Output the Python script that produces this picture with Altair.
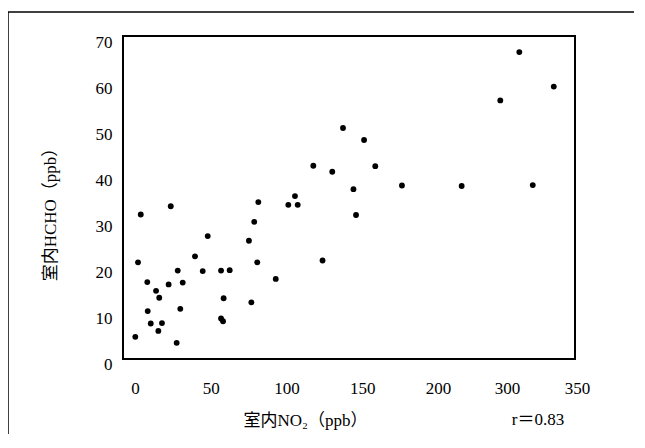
import altair as alt
import pandas as pd

# Indoor NO2 (ppb) and indoor HCHO (ppb)
no2 = [3.8, 23.6, 81.4, 105.6, 101.2, 107.4, 78.7, 48.0, 75.2, 39.6,
       2.0, 80.7, 28.2, 44.7, 56.8, 62.5, 92.9, 8.1, 22.2, 31.5,
       13.9, 16.0, 58.5, 76.8, 8.4, 29.9, 56.8, 58.1, 10.4, 17.8,
       15.4, 0.2, 27.5, 137.3, 151.2, 117.7, 130.2, 158.6, 144.2, 176.2,
       145.9, 123.8, 234.3, 308.8, 333.4, 290.3, 318.4]
hcho = [32.5, 34.3, 35.2, 36.5, 34.6, 34.6, 30.9, 27.8, 26.8, 23.4,
        22.1, 22.1, 20.3, 20.2, 20.3, 20.4, 18.5, 17.8, 17.3, 17.7,
        15.9, 14.4, 14.3, 13.4, 11.5, 12.0, 9.9, 9.3, 8.8, 8.9,
        7.2, 5.9, 4.6, 51.3, 48.7, 43.1, 41.8, 43.0, 38.0, 38.8,
        32.4, 22.5, 38.7, 67.8, 60.3, 57.3, 38.9]

x_tick_values = [0, 50, 100, 150, 200, 300, 350]
y_tick_values = [0, 10, 20, 30, 40, 50, 60, 70]
x_title = "室内NO₂（ppb）"
y_title = "室内HCHO（ppb）"
r_label = ["r＝0.83"]

df = pd.DataFrame({"no2": no2, "hcho": hcho})
font = "Liberation Serif, Noto Sans CJK JP"

points = alt.Chart(df).mark_circle(size=34, color="black", opacity=1).encode(
    x=alt.X(
        "no2:Q",
        scale=alt.Scale(domain=[0, 200, 300, 350], range=[12, 315, 384, 454], nice=False, zero=False),
        axis=alt.Axis(
            values=x_tick_values, title=x_title, domain=False, ticks=False, grid=False,
            labelFont=font, labelFontSize=17, labelColor="black", labelPadding=29,
            labelBaseline="middle", labelFlush=False, labelOverlap=False,
            titleFont=font, titleFontSize=17, titleFontWeight="normal", titleColor="black",
            titleX=182, titleY=61, titleAlign="center", titleBaseline="middle",
        ),
    ),
    y=alt.Y(
        "hcho:Q",
        scale=alt.Scale(domain=[0, 70], range=[328, 6], nice=False, zero=False),
        axis=alt.Axis(
            values=y_tick_values, title=y_title, domain=False, ticks=False, grid=False,
            labelFont=font, labelFontSize=17, labelColor="black", labelPadding=11,
            labelFlush=False, labelOverlap=False,
            titleFont=font, titleFontSize=17, titleFontWeight="normal", titleColor="black",
            titleX=-73, titleY=174, titleAngle=270, titleAlign="center", titleBaseline="middle",
        ),
    ),
)

edge = pd.DataFrame({"k": [0]})
top_line = alt.Chart(edge).mark_rule(color="black", strokeWidth=1.5).encode(
    x=alt.value(-115), x2=alt.value(511), y=alt.value(-24))
left_line = alt.Chart(edge).mark_rule(color="black", strokeWidth=1.5).encode(
    x=alt.value(-115), y=alt.value(-24), y2=alt.value(398))

rtext = alt.Chart(pd.DataFrame({"label": r_label})).mark_text(
    font=font, fontSize=17, color="black", align="center", baseline="middle"
).encode(x=alt.value(415), y=alt.value(384), text="label:N")

chart = alt.layer(top_line, left_line, points, rtext).properties(
    width=452, height=323,
    autosize=alt.AutoSizeParams(type="none"),
    padding={"left": 115, "top": 28, "right": 60, "bottom": 76},
    background="white",
).configure_view(stroke="black", strokeWidth=2)

chart.save("out.html", embed_options={"renderer": "svg", "actions": False})
